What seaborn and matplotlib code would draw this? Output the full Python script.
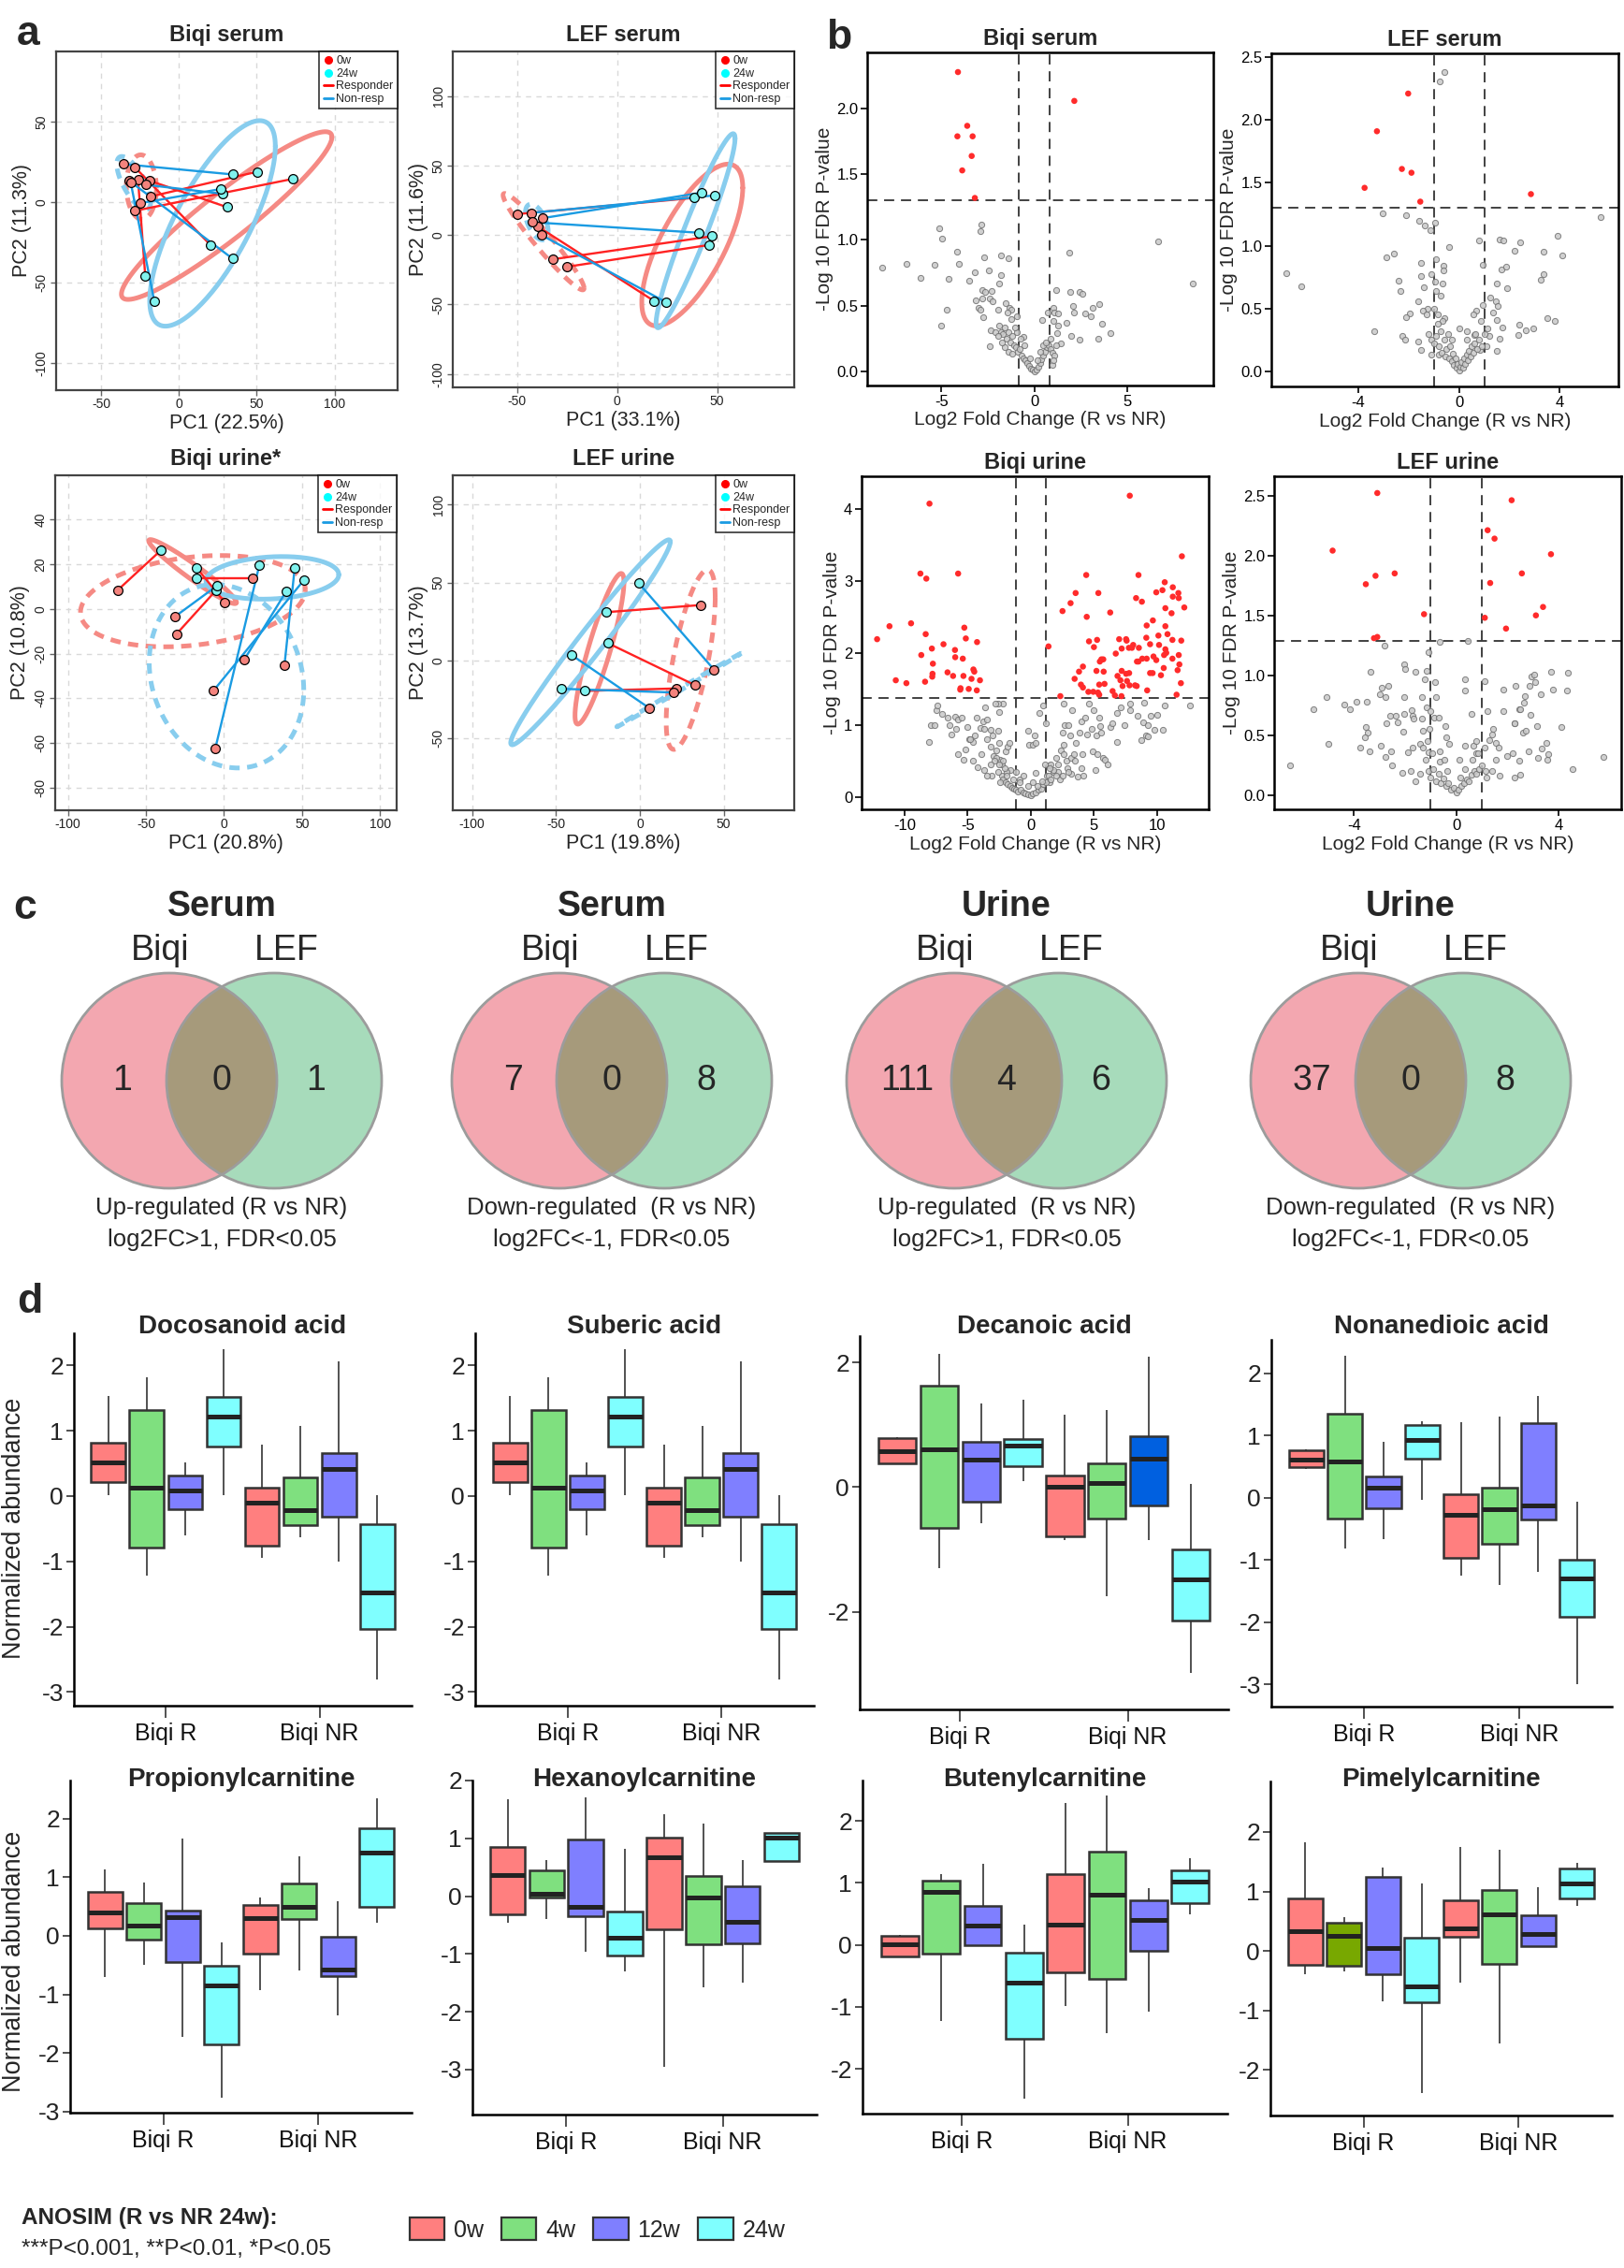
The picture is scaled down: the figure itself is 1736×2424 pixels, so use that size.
import numpy as np
import pandas as pd
import matplotlib
matplotlib.use("Agg")
import matplotlib.pyplot as plt
import seaborn as sns
from matplotlib.patches import Circle, Patch
from matplotlib.lines import Line2D
from matplotlib.ticker import FormatStrFormatter

sns.set_style("white")
plt.rcParams['font.family'] = ['Liberation Sans', 'DejaVu Sans']
plt.rcParams['axes.unicode_minus'] = False

# ======================= DATA =======================
# ---- panel a : PCA (PC1, PC2) of paired samples; index i of 0w pairs with index i of 24w
pca_titles = ["Biqi serum", "LEF serum", "Biqi urine*", "LEF urine"]
pca_xlabels = ["PC1 (22.5%)", "PC1 (33.1%)", "PC1 (20.8%)", "PC1 (19.8%)"]
pca_ylabels = ["PC2 (11.3%)", "PC2 (11.6%)", "PC2 (10.8%)", "PC2 (13.7%)"]

bs_w0 = [(-18.5, 3.5), (-28.7, -5.4), (-18.9, 13.4), (-28.5, 21.9), (-26.3, 13.8),
         (-35.5, 23.7), (-21.3, 10.9), (-25.1, -0.6), (-32.3, 13.6), (-31.1, 12.6)]
bs_w24 = [(50.4, 19.0), (73.5, 14.6), (31.1, -3.1), (20.1, -26.4), (-21.7, -45.6),
          (34.5, 17.3), (28.1, 5.2), (26.7, 8.2), (34.5, -35.1), (-15.9, -61.4)]
bs_resp = ["R"] * 5 + ["NR"] * 5

ls_w0 = [(-50.0, 15.0), (-32.2, -17.5), (-25.1, -22.9), (-39.6, 6.1),
         (-43.0, 15.9), (-37.2, 12.1), (-42.4, 9.2), (-37.9, 0.0)]
ls_w24 = [(38.5, 26.7), (47.4, -0.9), (45.8, -7.2), (18.5, -47.5),
          (48.9, 28.5), (42.4, 30.5), (41.0, 1.6), (24.5, -48.4)]
ls_resp = ["R"] * 4 + ["NR"] * 4

bu_w0 = [(-68.1, 8.5), (-30.5, -11.2), (0.4, 3.1), (18.4, 13.8),
         (-31.5, -3.4), (-5.6, -62.4), (-6.6, -36.4), (12.8, -22.8), (38.7, -25.3)]
bu_w24 = [(-40.5, 26.3), (-5.0, 8.5), (-17.6, 18.5), (-17.6, 13.8),
          (-4.2, 10.6), (22.6, 19.6), (51.3, 13.1), (39.9, 8.0), (45.3, 18.6)]
bu_resp = ["R"] * 4 + ["NR"] * 5

lu_w0 = [(36.2, 35.5), (33.1, -16.1), (21.6, -18.1),
         (44.2, -6.0), (20.1, -20.7), (5.6, -30.7)]
lu_w24 = [(-20.3, 30.9), (-19.0, 11.0), (-32.9, -19.7),
          (-0.7, 49.6), (-46.8, -18.3), (-40.7, 3.4)]
lu_resp = ["R"] * 3 + ["NR"] * 3

# ---- panel b : volcano plots (log2FC, -log10 FDR)
volc_titles = ["Biqi serum", "LEF serum", "Biqi urine", "LEF urine"]
volc_fc_cut = [0.85, 1.0, 1.2, 1.02]
volc_p_cut = [1.3, 1.3, 1.37, 1.29]

bsv_sig = [(-4.11, 2.28), (2.16, 2.06), (-3.61, 1.87), (-4.14, 1.79), (-3.32, 1.79),
           (-3.37, 1.64), (-3.88, 1.53), (-3.20, 1.32)]
bsv_ns = [(-5.12, 1.09), (-4.98, 1.01), (-2.87, 1.12), (-2.90, 1.07), (-8.19, 0.79), (-6.90, 0.82),
          (-5.35, 0.81), (-6.14, 0.71), (-4.16, 0.91), (-4.04, 0.82), (-4.63, 0.70), (-4.70, 0.47),
          (-5.03, 0.35), (-2.72, 0.87), (-1.81, 0.88), (-1.38, 0.86), (-2.45, 0.77), (-3.20, 0.75),
          (-3.51, 0.69), (-1.81, 0.73), (-1.90, 0.67), (-2.80, 0.62), (-2.63, 0.60), (-2.28, 0.61),
          (-3.15, 0.54), (-2.80, 0.55), (-2.42, 0.55), (-2.25, 0.53), (-3.02, 0.48), (-2.89, 0.47),
          (-2.75, 0.41), (-1.93, 0.47), (-1.53, 0.52), (-1.36, 0.48), (-1.22, 0.47), (-0.96, 0.42),
          (-2.37, 0.31), (-2.40, 0.19), (6.69, 0.99), (8.54, 0.67), (1.88, 0.90), (1.19, 0.62),
          (1.95, 0.60), (2.42, 0.60), (2.60, 0.59), (3.52, 0.51), (2.10, 0.50), (3.17, 0.48),
          (2.13, 0.45), (2.72, 0.44), (3.07, 0.42), (3.64, 0.36), (4.09, 0.29), (3.47, 0.25),
          (1.98, 0.27), (2.43, 0.24), (1.44, 0.21), (1.04, 0.48), (1.07, 0.45), (1.29, 0.44),
          (1.73, 0.37), (1.02, 0.38), (1.29, 0.35), (0.72, 0.45), (0.42, 0.39), (1.21, 0.29),
          (1.16, 0.20), (0.97, 0.05), (-0.59, 0.26),
          (-1.9, 0.35), (-1.8, 0.30), (-1.7, 0.28), (-1.6, 0.33), (-1.5, 0.25), (-1.4, 0.30),
          (-1.3, 0.22), (-1.2, 0.27), (-1.1, 0.20), (-1.0, 0.18), (-0.9, 0.15), (-0.8, 0.17),
          (-0.7, 0.12), (-0.6, 0.10), (-0.5, 0.08), (-0.4, 0.06), (-0.3, 0.04), (-0.2, 0.02),
          (-0.1, 0.01), (0.0, 0.0), (0.1, 0.01), (0.2, 0.03), (0.3, 0.06), (0.4, 0.09),
          (0.5, 0.12), (0.6, 0.15), (0.7, 0.18), (0.8, 0.20), (0.9, 0.17), (1.0, 0.14),
          (1.1, 0.12), (-1.4, 0.15), (-1.2, 0.13), (-1.6, 0.18), (-1.75, 0.22), (-2.1, 0.30),
          (-1.95, 0.27), (-0.95, 0.30), (-0.75, 0.25), (-0.55, 0.20), (0.5, 0.20), (0.65, 0.22),
          (0.3, 0.15), (-0.25, 0.10), (0.15, 0.08), (-1.25, 0.40), (-1.45, 0.45), (-1.05, 0.33),
          (0.9, 0.25), (1.05, 0.08)]

lsv_sig = [(-2.02, 2.21), (-3.26, 1.91), (-2.27, 1.61), (-1.89, 1.58), (-3.75, 1.46),
           (-1.54, 1.35), (2.85, 1.41)]
lsv_ns = [(-0.57, 2.38), (-0.76, 2.31), (-3.05, 1.26), (-2.12, 1.24), (-1.60, 1.20), (-1.37, 1.16),
          (-1.15, 1.12), (-0.97, 1.18), (5.62, 1.23), (3.91, 1.08), (4.09, 0.92), (3.36, 0.95),
          (2.43, 1.03), (2.19, 0.96), (1.59, 1.05), (1.75, 1.04), (0.78, 1.04), (-0.38, 0.99),
          (-6.85, 0.78), (-6.25, 0.68), (-2.89, 0.91), (-2.58, 0.94), (-1.50, 0.86), (-0.93, 0.89),
          (-0.62, 0.84), (-0.63, 0.80), (0.92, 0.85), (1.67, 0.81), (1.87, 0.83), (3.34, 0.77),
          (3.24, 0.73), (1.51, 0.70), (1.92, 0.66), (-2.39, 0.72), (-2.33, 0.64), (-1.51, 0.76),
          (-1.40, 0.67), (-1.11, 0.77), (-0.94, 0.71), (-0.67, 0.70), (-0.90, 0.64), (-0.74, 0.60),
          (-1.62, 0.56), (-1.24, 0.50), (-1.44, 0.48), (-1.94, 0.46), (-2.11, 0.43), (-0.85, 0.45),
          (-0.57, 0.42), (-3.36, 0.32), (-2.27, 0.28), (-2.15, 0.25), (-1.62, 0.24), (-1.51, 0.17),
          (-1.11, 0.13), (-0.80, 0.13), (3.50, 0.42), (3.80, 0.40), (2.40, 0.37), (2.93, 0.34),
          (2.66, 0.33), (2.34, 0.29), (0.93, 0.53), (1.24, 0.59), (1.45, 0.56), (1.54, 0.52),
          (1.36, 0.47), (1.49, 0.41), (1.71, 0.35), (1.61, 0.26), (1.49, 0.16), (0.69, 0.48),
          (0.56, 0.45), (0.87, 0.40), (0.0, 0.34), (0.30, 0.32), (0.59, 0.29), (1.14, 0.34),
          (1.19, 0.28), (1.07, 0.20), (0.84, 0.17),
          (-1.2, 0.30), (-1.1, 0.25), (-1.0, 0.22), (-0.9, 0.28), (-0.8, 0.20), (-0.75, 0.32),
          (-0.7, 0.15), (-0.6, 0.25), (-0.55, 0.12), (-0.5, 0.18), (-0.45, 0.30), (-0.4, 0.10),
          (-0.35, 0.20), (-0.3, 0.08), (-0.25, 0.14), (-0.2, 0.05), (-0.15, 0.10), (-0.1, 0.03),
          (-0.05, 0.06), (0.0, 0.01), (0.05, 0.04), (0.1, 0.07), (0.15, 0.03), (0.2, 0.10),
          (0.25, 0.06), (0.3, 0.13), (0.35, 0.09), (0.4, 0.16), (0.45, 0.12), (0.5, 0.20),
          (0.55, 0.15), (0.6, 0.22), (0.7, 0.18), (0.8, 0.25), (0.9, 0.20), (1.0, 0.30),
          (-0.65, 0.40), (-0.85, 0.38), (-0.3, 0.25), (0.3, 0.25), (0.65, 0.30), (-1.3, 0.45),
          (-1.0, 0.50)]

buv_sig = [(-8.02, 4.07), (-8.74, 3.10), (-8.27, 3.03), (-5.75, 3.10), (-9.48, 2.41), (-11.19, 2.37),
           (-12.17, 2.19), (-8.32, 2.26), (-5.26, 2.35), (-5.14, 2.20), (-4.25, 2.15), (-6.91, 2.12),
           (-7.83, 2.06), (-6.00, 2.04), (-8.67, 1.97), (-5.98, 1.94), (-5.38, 1.92), (-7.75, 1.85),
           (-4.54, 1.77), (-4.47, 1.74), (-6.59, 1.73), (-7.78, 1.71), (-6.15, 1.68), (-7.80, 1.67),
           (-5.33, 1.68), (-4.69, 1.64), (-4.02, 1.62), (-10.69, 1.62), (-9.85, 1.58), (-8.37, 1.60),
           (-5.56, 1.51), (-5.58, 1.49), (-4.91, 1.50), (-4.27, 1.48),
           (7.85, 4.18), (11.98, 3.34), (4.40, 3.08), (8.54, 3.08), (10.62, 2.98), (11.26, 2.91),
           (3.56, 2.83), (5.36, 2.83), (9.95, 2.84), (10.44, 2.87), (11.70, 2.83), (8.35, 2.76),
           (11.26, 2.78), (11.73, 2.76), (8.81, 2.71), (3.16, 2.69), (2.52, 2.58), (10.67, 2.62),
           (12.17, 2.63), (6.30, 2.56), (11.16, 2.55), (4.44, 2.50), (9.68, 2.45), (9.19, 2.38),
           (10.67, 2.37), (10.84, 2.26), (10.12, 2.24), (7.01, 2.19), (7.56, 2.19), (7.60, 2.17),
           (5.26, 2.18), (4.62, 2.16), (11.23, 2.18), (11.93, 2.17), (9.16, 2.21), (9.46, 2.12),
           (10.17, 2.11), (8.12, 2.11), (7.78, 2.07), (8.02, 2.07), (8.57, 2.07), (5.01, 2.08),
           (7.21, 2.06), (1.41, 2.09), (10.67, 2.05), (10.74, 2.00), (10.57, 1.97), (6.74, 1.99),
           (9.73, 1.95), (11.73, 1.97), (8.84, 1.92), (9.19, 1.92), (8.42, 1.88), (8.54, 1.88),
           (11.23, 1.92), (11.78, 1.84), (9.95, 1.90), (5.60, 1.91), (5.75, 1.91), (4.14, 1.81),
           (3.83, 1.74), (5.48, 1.88), (5.21, 1.75), (5.78, 1.74), (11.64, 1.76), (10.54, 1.79),
           (7.21, 1.75), (7.56, 1.71), (7.80, 1.72), (9.46, 1.72), (9.66, 1.72), (10.32, 1.69),
           (3.48, 1.64), (6.88, 1.68), (7.11, 1.62), (7.63, 1.61), (7.83, 1.55), (8.27, 1.55),
           (8.40, 1.54), (7.28, 1.54), (5.43, 1.56), (5.85, 1.57), (3.98, 1.56), (4.14, 1.52),
           (11.90, 1.58), (9.23, 1.48), (6.49, 1.47), (4.57, 1.46), (4.96, 1.46), (5.33, 1.45),
           (5.43, 1.42), (6.67, 1.41), (7.19, 1.40), (11.56, 1.42), (2.35, 1.40)]
buv_ns = [(-8.1, 0.77), (-7.9, 1.0), (-7.5, 1.2), (-7.4, 1.27), (-7.6, 1.0), (-7.0, 1.15), (-6.6, 1.1),
          (-6.4, 1.0), (-6.3, 0.87), (-6.0, 1.12), (-5.8, 1.08), (-5.9, 0.95), (-5.75, 0.6), (-5.5, 1.1),
          (-5.35, 0.52), (-5.2, 0.66), (-5.0, 0.97), (-4.9, 0.8), (-4.6, 0.77), (-4.4, 0.86), (-4.6, 0.5),
          (-4.3, 1.1), (-4.0, 0.96), (-3.8, 1.05), (-3.7, 0.95), (-3.5, 0.8), (-3.6, 1.25), (-3.5, 1.08),
          (-3.2, 0.93), (-3.2, 0.7), (-3.0, 0.85), (-2.95, 0.57), (-2.75, 0.65), (-2.6, 0.92), (-2.5, 0.75),
          (-2.4, 0.52), (-2.3, 0.45), (-2.2, 0.5), (-2.5, 1.18), (-2.2, 1.3), (-2.6, 1.3), (-2.8, 1.3),
          (-3.1, 0.3), (-3.7, 0.38), (-4.2, 0.42), (-4.8, 0.8), (-3.9, 0.6), (-2.0, 0.63), (-1.8, 0.7),
          (-1.7, 0.75), (-1.6, 0.37), (-1.9, 0.35), (-2.05, 0.4), (-1.2, 0.35), (-0.9, 0.25), (-0.6, 0.3),
          (-0.2, 0.15), (0.2, 0.2), (0.4, 0.33), (-0.2, 0.92), (0.3, 0.85), (-0.1, 0.72), (0.15, 0.72),
          (0.4, 0.75), (0.7, 1.17), (1.0, 1.27), (1.4, 0.44), (1.6, 0.45), (1.3, 0.3), (1.5, 0.2),
          (1.8, 0.35), (2.0, 0.55), (2.2, 0.35), (2.3, 0.25), (2.4, 0.65), (2.6, 0.6), (2.6, 0.73),
          (2.8, 0.5), (2.5, 0.9), (2.7, 1.0), (2.6, 1.3), (3.0, 1.0), (3.1, 0.85), (3.2, 0.55), (3.4, 0.6),
          (3.3, 1.2), (3.5, 0.5), (3.6, 0.75), (3.9, 0.9), (4.0, 1.05), (4.1, 0.6), (4.3, 1.1), (4.2, 0.3),
          (4.5, 0.87), (4.6, 1.3), (4.8, 0.95), (4.9, 0.63), (5.0, 1.2), (5.1, 0.37), (5.2, 0.85),
          (5.3, 0.6), (5.4, 1.1), (5.5, 0.98), (5.6, 0.9), (5.7, 0.55), (5.9, 0.52), (6.1, 0.45),
          (6.3, 0.97), (6.5, 1.02), (6.8, 1.17), (6.85, 0.77), (7.1, 1.25), (7.4, 1.0), (7.9, 1.2),
          (7.9, 1.3), (8.5, 1.13), (8.8, 0.79), (8.9, 1.04), (9.1, 0.86), (9.25, 1.0), (9.3, 0.84),
          (9.5, 1.13), (9.8, 0.93), (10.0, 1.14), (10.5, 0.93), (10.6, 1.27), (12.6, 1.27), (9.0, 1.31),
          (4.0, 0.4), (3.7, 0.28), (3.2, 0.32), (2.9, 0.4), (1.1, 0.45), (1.2, 1.03),
          (-2.5, 0.45), (-2.3, 0.3), (-2.2, 0.25), (-2.0, 0.2), (-1.8, 0.18), (-1.6, 0.15), (-1.5, 0.13),
          (-1.3, 0.12), (-1.2, 0.1), (-1.0, 0.08), (-0.8, 0.1), (-0.6, 0.06), (-0.4, 0.05), (-0.2, 0.04),
          (0.0, 0.02), (0.2, 0.05), (0.4, 0.06), (0.6, 0.1), (0.8, 0.12), (1.0, 0.18), (1.2, 0.2),
          (1.4, 0.3), (1.6, 0.25), (1.8, 0.38), (2.0, 0.3), (2.2, 0.45), (-2.7, 0.55), (-2.9, 0.5),
          (-3.2, 0.45), (-3.5, 0.3), (-1.9, 0.3), (-1.4, 0.25), (-0.9, 0.2), (0.5, 0.15), (0.9, 0.22),
          (1.5, 0.4), (2.5, 0.3), (3.0, 0.35), (-2.6, 0.35), (-2.4, 0.2)]

luv_sig = [(-3.09, 2.52), (2.17, 2.46), (1.23, 2.21), (1.50, 2.14), (-4.84, 2.04), (3.71, 2.01),
           (-2.41, 1.85), (2.57, 1.85), (-3.16, 1.83), (-3.54, 1.76), (1.33, 1.77), (3.40, 1.57),
           (3.12, 1.50), (-1.26, 1.51), (1.12, 1.48), (1.95, 1.39), (-3.09, 1.32), (-3.22, 1.31)]
luv_ns = [(-2.80, 1.25), (-0.63, 1.28), (0.45, 1.29), (-1.10, 1.19), (-2.05, 1.09), (-2.02, 1.05),
          (-3.34, 1.03), (-1.59, 1.03), (-1.15, 1.04), (-1.22, 0.97), (-0.82, 0.94), (0.33, 0.97),
          (0.35, 0.87), (1.12, 0.95), (1.83, 0.88), (2.32, 0.91), (2.88, 0.91), (2.96, 0.99),
          (3.07, 1.01), (3.09, 0.94), (3.70, 1.03), (4.39, 1.02), (4.33, 0.87), (3.78, 0.88),
          (3.30, 0.84), (2.68, 0.83), (2.66, 0.77), (2.48, 0.72), (2.90, 0.67), (2.27, 0.60),
          (3.17, 0.58), (4.10, 0.57), (-5.09, 0.82), (-5.60, 0.72), (-4.38, 0.76), (-4.15, 0.72),
          (-3.90, 0.78), (-3.51, 0.78), (-2.98, 0.84), (-2.78, 0.82), (-2.91, 0.90), (-2.67, 0.91),
          (-2.05, 0.82), (-1.34, 0.82), (-0.78, 0.82), (-1.17, 0.73), (-1.02, 0.70), (-1.76, 0.71),
          (-2.05, 0.68), (-2.59, 0.66), (-2.38, 0.66), (-2.73, 0.60), (-2.29, 0.61), (-2.06, 0.53),
          (-1.71, 0.66), (-1.66, 0.64), (-1.34, 0.64), (-1.04, 0.55), (-1.29, 0.54), (-0.88, 0.65),
          (-0.67, 0.65), (-0.41, 0.58), (0.59, 0.68), (1.23, 0.70), (1.85, 0.70), (2.29, 0.60),
          (2.61, 0.52), (2.73, 0.54), (2.49, 0.72), (-3.54, 0.57), (-3.46, 0.52), (-3.58, 0.48),
          (-3.76, 0.40), (-3.41, 0.37), (-2.96, 0.41), (-2.56, 0.37), (-2.51, 0.25), (-2.76, 0.32),
          (-2.10, 0.19), (-1.91, 0.36), (-1.71, 0.40), (-1.43, 0.43), (-1.12, 0.45), (-1.07, 0.36),
          (-0.63, 0.37), (-0.38, 0.48), (-0.29, 0.43), (0.12, 0.30), (0.33, 0.41), (0.68, 0.41),
          (0.77, 0.45), (0.77, 0.35), (1.28, 0.46), (1.40, 0.51), (1.43, 0.55), (1.56, 0.44),
          (1.65, 0.40), (1.54, 0.30), (1.99, 0.33), (2.21, 0.35), (2.46, 0.29), (2.30, 0.15),
          (2.52, 0.17), (2.85, 0.37), (3.21, 0.31), (3.35, 0.39), (3.54, 0.44), (3.56, 0.30),
          (3.62, 0.34), (4.55, 0.22), (5.77, 0.32), (-5.01, 0.43), (-6.52, 0.25), (1.71, 0.16),
          (1.16, 0.20),
          (-1.1, 0.20), (-1.0, 0.15), (-0.9, 0.22), (-0.8, 0.12), (-0.7, 0.18), (-0.6, 0.10),
          (-0.5, 0.14), (-0.4, 0.08), (-0.3, 0.10), (-0.2, 0.05), (-0.1, 0.06), (0.0, 0.02),
          (0.1, 0.05), (0.2, 0.08), (0.3, 0.10), (0.4, 0.13), (0.5, 0.12), (0.6, 0.17), (0.7, 0.20),
          (0.8, 0.18), (0.9, 0.22), (1.0, 0.25), (-1.2, 0.30), (-0.95, 0.35), (-0.65, 0.28),
          (-0.35, 0.20), (0.35, 0.22), (0.65, 0.30), (0.85, 0.35), (-1.4, 0.18), (-1.6, 0.12),
          (-1.8, 0.20), (1.2, 0.15), (1.4, 0.20), (1.1, 0.40), (-1.3, 0.40), (-0.45, 0.30), (0.15, 0.15)]

# ---- panel c : Venn counts (Biqi only, shared, LEF only)
venn_titles = ["Serum", "Serum", "Urine", "Urine"]
venn_counts = [(1, 0, 1), (7, 0, 8), (111, 4, 6), (37, 0, 8)]
venn_line1 = ["Up-regulated (R vs NR)", "Down-regulated  (R vs NR)",
              "Up-regulated  (R vs NR)", "Down-regulated  (R vs NR)"]
venn_line2 = ["log2FC>1, FDR<0.05", "log2FC<-1, FDR<0.05",
              "log2FC>1, FDR<0.05", "log2FC<-1, FDR<0.05"]

# ---- panel d : box plots, 5-number summaries [min, Q1, median, Q3, max]
box_groups = ["Biqi R", "Biqi NR"]
box_times = ["0w", "4w", "12w", "24w"]
box_titles = ["Docosanoid acid", "Suberic acid", "Decanoic acid", "Nonanedioic acid",
              "Propionylcarnitine", "Hexanoylcarnitine", "Butenylcarnitine", "Pimelylcarnitine"]
docosanoid = [[0.01, 0.22, 0.51, 0.81, 1.53], [-1.22, -0.79, 0.12, 1.31, 1.81],
              [-0.60, -0.20, 0.09, 0.31, 0.52], [0.01, 0.75, 1.22, 1.51, 2.24],
              [-0.95, -0.76, -0.10, 0.12, 0.78], [-0.63, -0.45, -0.22, 0.28, 1.07],
              [-1.01, -0.31, 0.41, 0.65, 2.06], [-2.81, -2.03, -1.47, -0.43, 0.01]]
suberic = [[0.01, 0.22, 0.51, 0.81, 1.53], [-1.22, -0.79, 0.12, 1.31, 1.81],
           [-0.60, -0.20, 0.09, 0.31, 0.52], [0.01, 0.75, 1.22, 1.51, 2.24],
           [-0.95, -0.76, -0.10, 0.12, 0.78], [-0.63, -0.45, -0.22, 0.28, 1.07],
           [-1.01, -0.31, 0.41, 0.65, 2.06], [-2.81, -2.03, -1.47, -0.43, 0.01]]
decanoic = [[0.38, 0.38, 0.57, 0.79, 0.80], [-1.30, -0.65, 0.61, 1.62, 2.14],
            [-0.57, -0.23, 0.44, 0.72, 1.34], [0.09, 0.34, 0.66, 0.77, 1.40],
            [-0.85, -0.79, 0.0, 0.19, 1.16], [-1.74, -0.50, 0.07, 0.38, 1.23],
            [-0.84, -0.29, 0.46, 0.82, 2.09], [-2.98, -2.14, -1.47, -1.00, 0.05]]
nonanedioic = [[0.47, 0.49, 0.61, 0.76, 0.78], [-0.82, -0.33, 0.59, 1.35, 2.28],
               [-0.66, -0.17, 0.16, 0.34, 0.90], [-0.04, 0.63, 0.93, 1.17, 1.23],
               [-1.25, -0.97, -0.27, 0.06, 1.22], [-1.41, -0.74, -0.19, 0.16, 1.31],
               [-1.19, -0.35, -0.13, 1.20, 1.63], [-3.0, -1.92, -1.30, -1.00, -0.06]]
propionyl = [[-0.70, 0.12, 0.40, 0.75, 1.13], [-0.50, -0.06, 0.17, 0.55, 0.91],
             [-1.72, -0.45, 0.32, 0.43, 1.66], [-2.76, -1.85, -0.85, -0.52, -0.12],
             [-0.92, -0.31, 0.30, 0.53, 0.65], [-0.60, 0.28, 0.49, 0.90, 1.36],
             [-1.36, -0.69, -0.57, -0.02, 0.59], [0.22, 0.50, 1.42, 1.84, 2.35]]
hexanoyl = [[-0.46, -0.32, 0.36, 0.85, 1.68], [-0.39, -0.03, 0.04, 0.44, 0.62],
            [-0.97, -0.34, -0.18, 0.98, 1.71], [-1.31, -1.02, -0.72, -0.26, 0.82],
            [-2.95, -0.58, 0.67, 1.02, 1.41], [-1.58, -0.84, -0.02, 0.35, 1.25],
            [-1.49, -0.81, -0.45, 0.17, 0.63], [0.60, 0.61, 1.02, 1.09, 1.10]]
butenyl = [[-0.20, -0.18, 0.01, 0.15, 0.16], [-1.22, -0.14, 0.86, 1.03, 1.14],
           [-0.02, 0.0, 0.31, 0.63, 1.31], [-2.48, -1.52, -0.61, -0.13, 0.33],
           [-0.98, -0.44, 0.33, 1.14, 2.29], [-1.42, -0.55, 0.81, 1.51, 2.41],
           [-1.07, -0.10, 0.40, 0.72, 0.92], [0.49, 0.68, 1.02, 1.20, 1.40]]
pimelyl = [[-0.39, -0.24, 0.33, 0.88, 1.82], [-0.35, -0.25, 0.26, 0.48, 0.56],
           [-0.85, -0.39, 0.05, 1.25, 1.40], [-2.39, -0.87, -0.59, 0.22, 1.14],
           [-0.53, 0.24, 0.38, 0.85, 1.75], [-1.56, -0.22, 0.61, 1.02, 1.70],
           [0.08, 0.08, 0.29, 0.60, 1.07], [0.76, 0.88, 1.13, 1.39, 1.48]]

# ======================= STYLE / LAYOUT =======================
W, H = 1736, 2424
fig = plt.figure(figsize=(W / 100, H / 100), dpi=100)


def add_ax(l, t, r, b):
    return fig.add_axes([l / W, 1 - b / H, (r - l) / W, (b - t) / H])


def ftext(x, y, s, **kw):
    fig.text(x / W, 1 - y / H, s, **kw)


RED_LINE, BLUE_LINE = "#FF2222", "#1A9BE2"
RED_PT, CYAN_PT = "#F4837D", "#80F2EE"
RED_ELL, BLUE_ELL = "#F58A84", "#88CDEE"


def ellipse_xy(pts, r=1.9, n=240):
    p = np.asarray(pts, float)
    mu = p.mean(0)
    cov = np.cov(p.T) + 1e-9 * np.eye(2)
    L = np.linalg.cholesky(cov)
    t = np.linspace(0, 2 * np.pi, n)
    e = mu[:, None] + r * L @ np.vstack([np.cos(t), np.sin(t)])
    return e[0], e[1]


# ---------------- panel a ----------------
pca_sets = [
    (bs_w0, bs_w24, bs_resp, (60, 55, 425, 417), (-79, 140.6), (-116.9, 93.8), [-50, 0, 50, 100], [-100, -50, 0, 50]),
    (ls_w0, ls_w24, ls_resp, (484, 55, 849, 414), (-82.1, 88.5), (-109.6, 132), [-50, 0, 50], [-100, -50, 0, 50, 100]),
    (bu_w0, bu_w24, bu_resp, (59, 508, 424, 866), (-108.2, 110.6), (-90.1, 59.9), [-100, -50, 0, 50, 100], [-80, -60, -40, -20, 0, 20, 40]),
    (lu_w0, lu_w24, lu_resp, (484, 508, 849, 866), (-111.5, 92), (-96.4, 118.9), [-100, -50, 0, 50], [-50, 0, 50, 100]),
]
for k, (w0, w24, resp, rect, xl, yl, xt, yt) in enumerate(pca_sets):
    ax = add_ax(*rect)
    w0a, w24a = np.asarray(w0), np.asarray(w24)
    resp = np.asarray(resp)
    ax.set_xlim(*xl); ax.set_ylim(*yl)
    ax.set_xticks(xt); ax.set_yticks(yt)
    ax.grid(True, ls=(0, (4, 4)), color="#D9D9D9", lw=1.0)
    ax.set_axisbelow(True)
    for grp, col in (("R", RED_ELL), ("NR", BLUE_ELL)):
        m = resp == grp
        ex, ey = ellipse_xy(w24a[m])
        ax.plot(ex, ey, color=col, lw=3.6, zorder=2, solid_capstyle="round")
        ex, ey = ellipse_xy(w0a[m])
        ax.plot(ex, ey, color=col, lw=3.6, ls=(0, (2.2, 1.6)), zorder=2)
    for i in range(len(w0a)):
        col = RED_LINE if resp[i] == "R" else BLUE_LINE
        ax.plot([w0a[i, 0], w24a[i, 0]], [w0a[i, 1], w24a[i, 1]], color=col, lw=1.7, zorder=3)
    sns.scatterplot(x=w0a[:, 0], y=w0a[:, 1], color=RED_PT, edgecolor="black", linewidth=0.9,
                    s=50, ax=ax, legend=False, zorder=4)
    sns.scatterplot(x=w24a[:, 0], y=w24a[:, 1], color=CYAN_PT, edgecolor="black", linewidth=0.9,
                    s=50, ax=ax, legend=False, zorder=4)
    for sp in ax.spines.values():
        sp.set_color("#444444"); sp.set_linewidth(1.6); sp.set_visible(True)
    ax.tick_params(axis="both", direction="out", length=4, width=1, color="#666666",
                   labelsize=10, labelcolor="#222222", pad=2, left=True, bottom=True)
    ax.tick_params(axis="y", labelrotation=90)
    for lb in ax.get_yticklabels():
        lb.set_va("center")
    ax.set_xlabel(pca_xlabels[k], fontsize=15.5, labelpad=2)
    ax.set_ylabel(pca_ylabels[k], fontsize=15.5, labelpad=3)
    ax.set_title(pca_titles[k], fontsize=17, fontweight="bold", pad=8)
    handles = [Line2D([], [], ls="none", marker="o", mfc="red", mec="red", ms=5.5, label="0w"),
               Line2D([], [], ls="none", marker="o", mfc="cyan", mec="cyan", ms=5.5, label="24w"),
               Line2D([], [], color="red", lw=2, label="Responder"),
               Line2D([], [], color=BLUE_LINE, lw=2, label="Non-resp")]
    leg = ax.legend(handles=handles, loc="upper right", borderaxespad=0, frameon=True, fancybox=False,
                    edgecolor="black", fontsize=9, handlelength=0.8, handletextpad=0.3,
                    labelspacing=0.12, borderpad=0.35)
    leg.get_frame().set_linewidth(1.2)

# ---------------- panel b ----------------
volc_sets = [
    (bsv_ns, bsv_sig, (927, 56, 1297, 412), (-9.0, 9.65), (-0.11, 2.43), [-5, 0, 5], [0, 0.5, 1.0, 1.5, 2.0], "%.1f"),
    (lsv_ns, lsv_sig, (1359, 57, 1730, 413), (-7.45, 6.32), (-0.12, 2.53), [-4, 0, 4], [0, 0.5, 1.0, 1.5, 2.0, 2.5], "%.1f"),
    (buv_ns, buv_sig, (921, 509, 1292, 865), (-13.4, 14.1), (-0.17, 4.45), [-10, -5, 0, 5, 10], [0, 1, 2, 3, 4], "%d"),
    (luv_ns, luv_sig, (1362, 509, 1733, 865), (-7.13, 6.46), (-0.117, 2.66), [-4, 0, 4], [0, 0.5, 1.0, 1.5, 2.0, 2.5], "%.1f"),
]
for k, (ns, sig, rect, xl, yl, xt, yt, fmt) in enumerate(volc_sets):
    ax = add_ax(*rect)
    ns, sig = np.asarray(ns), np.asarray(sig)
    sns.scatterplot(x=ns[:, 0], y=ns[:, 1], color="#C8C8C8", edgecolor="#6E6E6E", linewidth=0.7,
                    s=20, alpha=0.85, ax=ax, legend=False, zorder=3)
    sns.scatterplot(x=sig[:, 0], y=sig[:, 1], color="#FF2B2B", edgecolor="none", linewidth=0,
                    s=22, ax=ax, legend=False, zorder=4)
    fc, pc = volc_fc_cut[k], volc_p_cut[k]
    for v in (-fc, fc):
        ax.axvline(v, color="#333333", lw=1.3, ls=(0, (6, 4)), zorder=2)
    ax.axhline(pc, color="#333333", lw=1.3, ls=(0, (6, 4)), zorder=2)
    ax.set_xlim(*xl); ax.set_ylim(*yl)
    ax.set_xticks(xt); ax.set_yticks(yt)
    ax.yaxis.set_major_formatter(FormatStrFormatter(fmt))
    for sp in ax.spines.values():
        sp.set_color("black"); sp.set_linewidth(1.8); sp.set_visible(True)
    ax.tick_params(axis="both", direction="out", length=5, width=1.2, color="black",
                   labelsize=12, labelcolor="black", pad=2, left=True, bottom=True)
    ax.set_xlabel("Log2 Fold Change (R vs NR)", fontsize=15, labelpad=2)
    ax.set_ylabel("-Log 10 FDR P-value", fontsize=15, labelpad=2)
    ax.set_title(volc_titles[k], fontsize=17, fontweight="bold", pad=6)

# ---------------- panel c : Venn ----------------
axv = add_ax(0, 930, W, 1345)
axv.set_xlim(0, W); axv.set_ylim(1345, 930)
axv.axis("off")
venn_left_cx = [181, 598, 1020, 1452]
venn_dx, venn_cy, venn_r = 112, 1155, 115
for k in range(4):
    lx = venn_left_cx[k]; rx = lx + venn_dx; mx = (lx + rx) / 2
    c1 = Circle((lx, venn_cy), venn_r, facecolor="#F3A7B0", edgecolor="none", zorder=1)
    c2 = Circle((rx, venn_cy), venn_r, facecolor="#A7DBBB", edgecolor="none", zorder=1)
    axv.add_patch(c1); axv.add_patch(c2)
    ov = Circle((rx, venn_cy), venn_r, facecolor="#A69A7B", edgecolor="none", zorder=2)
    axv.add_patch(ov); ov.set_clip_path(c1)
    for cx in (lx, rx):
        axv.add_patch(Circle((cx, venn_cy), venn_r, facecolor="none", edgecolor="#9C9C9C", lw=2, zorder=3))
    a_, b_, c_ = venn_counts[k]
    axv.text(lx - 50, venn_cy, str(a_), fontsize=27, ha="center", va="center", zorder=4)
    axv.text(mx, venn_cy, str(b_), fontsize=27, ha="center", va="center", zorder=4)
    axv.text(rx + 45, venn_cy, str(c_), fontsize=27, ha="center", va="center", zorder=4)
    axv.text(mx, 969, venn_titles[k], fontsize=27, fontweight="bold", ha="center", va="center")
    axv.text(lx - 10, 1016, "Biqi", fontsize=27, ha="center", va="center")
    axv.text(rx + 13, 1016, "LEF", fontsize=27, ha="center", va="center")
    axv.text(mx, 1291, venn_line1[k], fontsize=18.5, ha="center", va="center")
    axv.text(mx, 1325, venn_line2[k], fontsize=18.5, ha="center", va="center")

# ---------------- panel d : box plots ----------------
box_pal = {"0w": "#FF7F7F", "4w": "#7FE07F", "12w": "#7F7FFF", "24w": "#7FFFFF"}
box_sets = [
    (docosanoid, (79, 1425, 440, 1823), (-3.21, 2.49), [-3, -2, -1, 0, 1, 2], {}),
    (suberic, (508, 1425, 870, 1823), (-3.21, 2.49), [-3, -2, -1, 0, 1, 2], {}),
    (decanoic, (919, 1428, 1313, 1827), (-3.56, 2.42), [-2, 0, 2], {(1, 2): "#0060E0"}),
    (nonanedioic, (1359, 1432, 1723, 1824), (-3.36, 2.54), [-3, -2, -1, 0, 1, 2], {}),
    (propionyl, (75, 1903, 440, 2258), (-3.02, 2.65), [-3, -2, -1, 0, 1, 2], {}),
    (hexanoyl, (505, 1903, 873, 2260), (-3.78, 2.0), [-3, -2, -1, 0, 1, 2], {}),
    (butenyl, (922, 1903, 1312, 2259), (-2.72, 2.65), [-2, -1, 0, 1, 2], {}),
    (pimelyl, (1358, 1904, 1723, 2261), (-2.77, 2.85), [-2, -1, 0, 1, 2], {(0, 1): "#78A800"}),
]
for k, (stats, rect, yl, yt, special) in enumerate(box_sets):
    ax = add_ax(*rect)
    rows = []
    for gi, g in enumerate(box_groups):
        for ti, t in enumerate(box_times):
            for v in stats[gi * 4 + ti]:
                rows.append((g, t, v))
    df = pd.DataFrame(rows, columns=["group", "time", "value"])
    sns.boxplot(data=df, x="group", y="value", hue="time", order=box_groups, hue_order=box_times,
                palette=box_pal, saturation=1, whis=(0, 100), width=1.0, gap=0.1,
                linecolor="#333333", linewidth=1.8, showcaps=False, fliersize=0,
                medianprops=dict(color="#222222", linewidth=3.6),
                whiskerprops=dict(color="#333333", linewidth=1.2),
                legend=False, ax=ax)
    for (gi, ti), col in special.items():
        xc = gi + (ti - 1.5) * 0.25
        best, bd = None, 9
        for p in ax.patches:
            verts = p.get_path().vertices
            try:
                vx = p.get_transform().transform(verts)
                vx = ax.transData.inverted().transform(vx)[:, 0]
            except Exception:
                continue
            d = abs(vx.mean() - xc)
            if d < bd:
                best, bd = p, d
        if best is not None:
            best.set_facecolor(col)
    ax.set_xlim(-0.6, 1.6)
    ax.set_ylim(*yl)
    ax.set_yticks(yt)
    ax.set_xlabel(""); ax.set_ylabel("")
    sns.despine(ax=ax)
    for s in ("left", "bottom"):
        ax.spines[s].set_color("black"); ax.spines[s].set_linewidth(1.8)
    ax.tick_params(axis="y", direction="out", length=6, width=1.2, color="#333333",
                   labelsize=19, labelcolor="#222222", pad=2, left=True)
    ax.tick_params(axis="x", direction="out", length=9, width=1.2, color="#333333",
                   labelsize=18, labelcolor="#111111", pad=4, bottom=True)
    cx = (rect[0] + rect[2]) / 2
    ty = 1418 if k < 4 else 1902
    ftext(cx, ty, box_titles[k], fontsize=20, fontweight="bold", ha="center", va="center")

ftext(15, 1633, "Normalized abundance", fontsize=19.5, rotation=90, ha="center", va="center")
ftext(15, 2096, "Normalized abundance", fontsize=19.5, rotation=90, ha="center", va="center")

leg_handles = [Patch(facecolor=box_pal[t], edgecolor="#333333", linewidth=1.6, label=t) for t in box_times]
fig.legend(handles=leg_handles, loc="center left", bbox_to_anchor=(425 / W, 1 - 2383 / H),
           ncol=4, frameon=False, fontsize=18, handlelength=1.5, handleheight=1.05,
           handletextpad=0.4, columnspacing=0.75, borderpad=0)
ftext(23, 2370, "ANOSIM (R vs NR 24w):", fontsize=17.5, fontweight="bold", ha="left", va="center")
ftext(23, 2404, "***P<0.001, **P<0.01, *P<0.05", fontsize=17.5, ha="left", va="center")

ftext(18, 48, "a", fontsize=32, fontweight="bold", ha="left", va="baseline")
ftext(883, 52, "b", fontsize=32, fontweight="bold", ha="left", va="baseline")
ftext(14, 982, "c", fontsize=32, fontweight="bold", ha="left", va="baseline")
ftext(18, 1403, "d", fontsize=32, fontweight="bold", ha="left", va="baseline")

fig.savefig("out.png", dpi=100)
